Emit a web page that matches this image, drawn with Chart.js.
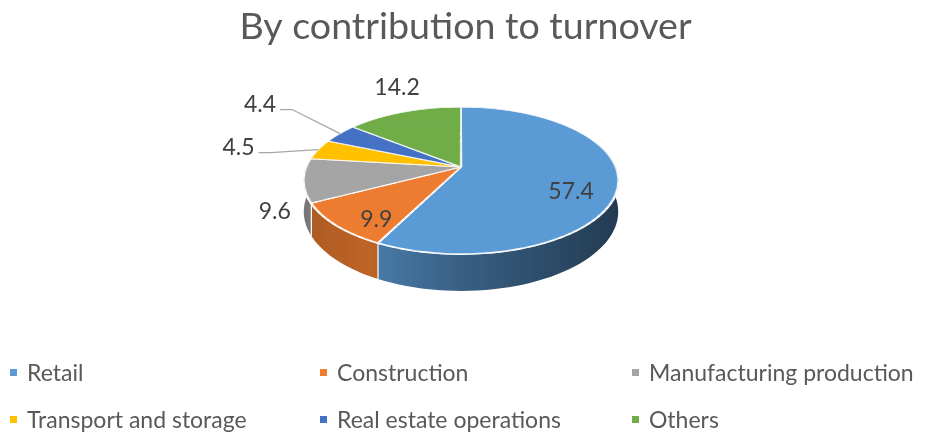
<!DOCTYPE html>
<html>
<head>
<meta charset="utf-8">
<script src="https://cdn.jsdelivr.net/npm/chart.js@4.4.0/dist/chart.umd.min.js"></script>
<style>
  body { margin: 0; background: #fff; }
  #wrap { position: relative; width: 931px; height: 434px; }
  #legend { position: absolute; left: 10px; top: 359px; display: grid;
            grid-template-columns: 310px 312px 300px; grid-auto-rows: 47px;
            font-family: Lato, sans-serif; font-size: 23px; line-height: 26px; color: #595959; }
  .item { display: flex; align-items: center; height: 26px; white-space: nowrap; }
  .box { width: 7px; height: 7px; margin-right: 10px; flex: none; }
</style>
</head>
<body>
<div id="wrap">
  <canvas id="pieChart" width="931" height="434"></canvas>
  <div id="legend"></div>
</div>
<script>
// chart data
var categories = ['Retail', 'Construction', 'Manufacturing production', 'Transport and storage', 'Real estate operations', 'Others'];
var shares = [57.4, 9.9, 9.6, 4.5, 4.4, 14.2];
var sliceColors = ['#5b9bd5', '#ed7d31', '#a5a5a5', '#ffc000', '#4472c4', '#70ad47'];
var labelPlacement = ['inside', 'inside', 'outside', 'leader', 'leader', 'outside'];

// tilted (3D) view of the pie on screen
var CX = 461, CY = 167, SX = 154.5, SY = 71, PERSP = 0.185, DEPTH = 30;

function project(u, v) {
    var w = 1 - PERSP * v;
    return { x: CX + SX * u / w, y: CY + SY * v / w, w: w };
}

function shade(hex, f) {
    var n = parseInt(hex.slice(1), 16);
    var r = Math.round(((n >> 16) & 255) * f), g = Math.round(((n >> 8) & 255) * f), b = Math.round((n & 255) * f);
    return 'rgb(' + r + ',' + g + ',' + b + ')';
}

function sideGradient(ctx, hex) {
    var grad = ctx.createLinearGradient(CX - SX * 1.02, 0, CX + SX * 1.02, 0);
    grad.addColorStop(0, shade(hex, 0.72));
    grad.addColorStop(0.2, shade(hex, 0.8));
    grad.addColorStop(0.5, shade(hex, 0.62));
    grad.addColorStop(1, shade(hex, 0.38));
    return grad;
}

var pie3d = {
    id: 'pie3d',
    beforeDatasetsDraw: function (chart) {
        var ctx = chart.ctx;
        var meta = chart.getDatasetMeta(0);
        var arcs = meta.data.map(function (el) {
            return el.getProps(['x', 'y', 'startAngle', 'endAngle', 'outerRadius'], true);
        });

        // side wall, front half only
        arcs.forEach(function (arc, i) {
            var b1 = Math.max(arc.startAngle, 0), b2 = Math.min(arc.endAngle, Math.PI);
            if (b2 <= b1) return;
            var n = 48, top = [], k, t;
            for (k = 0; k <= n; k++) {
                t = b1 + (b2 - b1) * k / n;
                top.push(project(Math.cos(t), Math.sin(t)));
            }
            ctx.beginPath();
            ctx.moveTo(top[0].x, top[0].y);
            for (k = 1; k <= n; k++) ctx.lineTo(top[k].x, top[k].y);
            for (k = n; k >= 0; k--) ctx.lineTo(top[k].x, top[k].y + DEPTH / top[k].w);
            ctx.closePath();
            ctx.fillStyle = sideGradient(ctx, sliceColors[i]);
            ctx.fill();
        });
        ctx.strokeStyle = '#ffffff';
        ctx.lineWidth = 1.2;
        arcs.forEach(function (arc) {
            var t = arc.startAngle;
            if (t <= 0 || t >= Math.PI) return;
            var p = project(Math.cos(t), Math.sin(t));
            ctx.beginPath();
            ctx.moveTo(p.x, p.y);
            ctx.lineTo(p.x, p.y + DEPTH / p.w);
            ctx.stroke();
        });

        // top face: the library draws the arcs, strip by strip, into the tilted view
        var ax = arcs[0].x, ay = arcs[0].y, R = arcs[0].outerRadius;
        var N = 140, v0, v1, vm, y0, y1, pm, a, d, i;
        for (i = 0; i < N; i++) {
            v0 = -1.03 + 2.06 * i / N;
            v1 = v0 + 2.06 / N;
            vm = (v0 + v1) / 2;
            y0 = project(0, v0).y;
            y1 = project(0, v1).y;
            pm = project(0, vm);
            a = SX / (pm.w * R);
            d = SY / (pm.w * pm.w * R);
            ctx.save();
            ctx.beginPath();
            ctx.rect(0, y0 - 0.6, chart.width, y1 - y0 + 1.2);
            ctx.clip();
            ctx.setTransform(a, 0, 0, d, CX - a * ax, pm.y - d * (ay + vm * R));
            meta.controller.draw();
            ctx.restore();
        }
        return false;
    },
    afterDraw: function (chart) {
        var ctx = chart.ctx;
        var meta = chart.getDatasetMeta(0);
        ctx.save();
        ctx.font = '23px Lato, sans-serif';
        ctx.fillStyle = '#404040';
        ctx.textAlign = 'center';
        ctx.textBaseline = 'middle';

        var leaders = [];
        meta.data.forEach(function (el, i) {
            var arc = el.getProps(['startAngle', 'endAngle'], true);
            var mid = (arc.startAngle + arc.endAngle) / 2;
            var c = Math.cos(mid), s = Math.sin(mid);
            var text = String(shares[i]);
            var hw = ctx.measureText(text).width / 2, hh = 11;
            var p, x, y;
            if (labelPlacement[i] === 'inside') {
                p = project(0.71 * c, 0.71 * s);
                ctx.fillText(text, p.x, p.y + 13);
            } else if (labelPlacement[i] === 'outside') {
                p = project(c, s);
                y = s > 0 ? p.y + DEPTH / p.w : p.y;
                x = p.x + c * Math.abs(c) * (hw + 14);
                ctx.fillText(text, x, y + s * (hh + 16) - (s > 0 ? 5 : 0));
            } else {
                p = project(c, s);
                leaders.push({ text: text, hw: hw, rim: p, x: p.x + (c < 0 ? -80 : 80), y: p.y, dir: c < 0 ? 1 : -1 });
            }
        });

        // spread leader labels so they do not crowd
        leaders.sort(function (m, n) { return n.y - m.y; });
        for (var k = 1; k < leaders.length; k++) {
            leaders[k].y = Math.min(leaders[k].y, leaders[k - 1].y - 43);
        }
        ctx.strokeStyle = '#a6a6a6';
        ctx.lineWidth = 1.3;
        leaders.forEach(function (lb) {
            var x0 = lb.x + lb.dir * (lb.hw + 4), ly = lb.y + 3;
            ctx.beginPath();
            ctx.moveTo(x0, ly);
            ctx.lineTo(x0 + lb.dir * 12, ly);
            ctx.lineTo(lb.rim.x, lb.rim.y);
            ctx.stroke();
            ctx.fillText(lb.text, lb.x, lb.y - 2);
        });
        ctx.restore();
    }
};

var pieChart = new Chart(document.getElementById('pieChart'), {
    type: 'pie',
    data: {
        labels: categories,
        datasets: [
            {
                data: shares,
                backgroundColor: sliceColors,
                borderColor: '#ffffff',
                borderWidth: 2
            }
        ]
    },
    options: {
        responsive: false,
        animation: false,
        events: [],
        layout: { padding: { bottom: 100 } },
        plugins: {
            legend: { display: false },
            tooltip: { enabled: false },
            title: {
                display: true,
                text: 'By contribution to turnover',
                color: '#595959',
                font: { family: 'Lato', size: 37.6, weight: 'normal' },
                padding: { top: 4, bottom: 10 }
            }
        }
    },
    plugins: [pie3d]
});

// legend in three columns, like the original
var legend = document.getElementById('legend');
categories.forEach(function (name, i) {
    var item = document.createElement('div');
    item.className = 'item';
    var box = document.createElement('span');
    box.className = 'box';
    box.style.background = sliceColors[i];
    item.appendChild(box);
    item.appendChild(document.createTextNode(name));
    legend.appendChild(item);
});
</script>
</body>
</html>
